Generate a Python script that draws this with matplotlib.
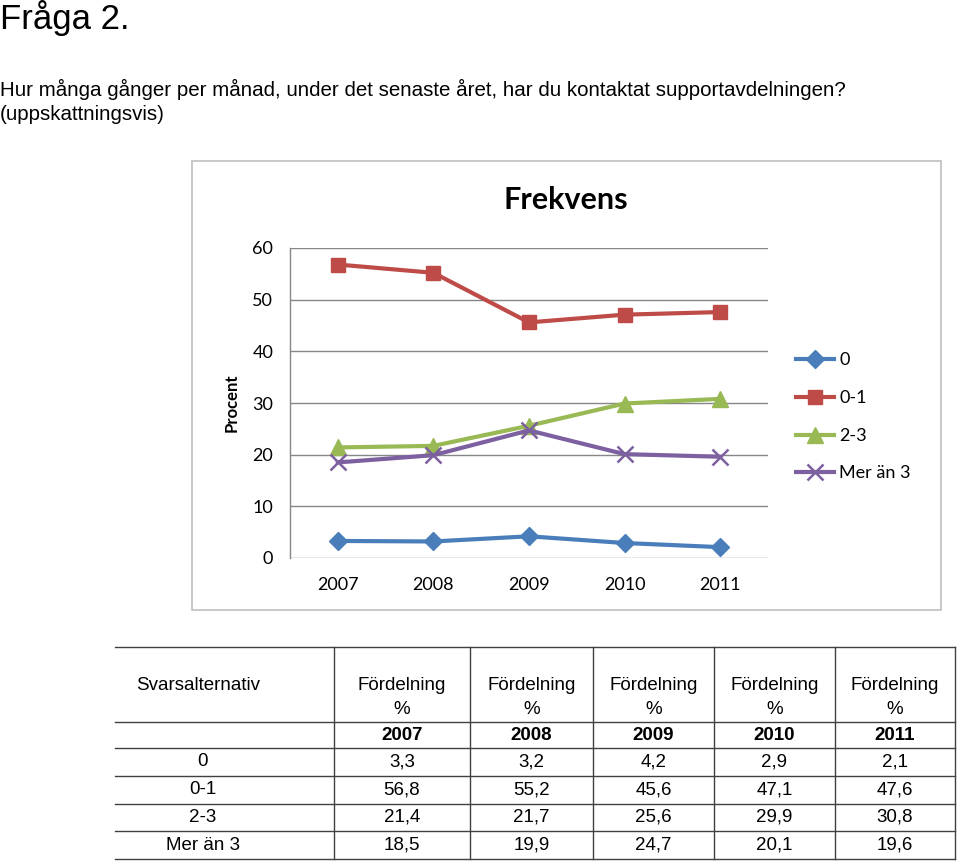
import matplotlib
matplotlib.use("Agg")
import matplotlib.pyplot as plt
from matplotlib.lines import Line2D
from matplotlib.patches import Rectangle

years = ["2007", "2008", "2009", "2010", "2011"]
series_names = ["0", "0-1", "2-3", "Mer än 3"]
v_0 = [3.3, 3.2, 4.2, 2.9, 2.1]
v_01 = [56.8, 55.2, 45.6, 47.1, 47.6]
v_23 = [21.4, 21.7, 25.6, 29.9, 30.8]
v_mer3 = [18.5, 19.9, 24.7, 20.1, 19.6]
yticks = [0, 10, 20, 30, 40, 50, 60]

colors = ["#4A7EBB", "#BE4B48", "#98B954", "#7D60A0"]
markers = ["D", "s", "^", "x"]
msizes = [9, 10, 11, 11]

W, H = 960, 864
fig = plt.figure(figsize=(9.6, 8.64), dpi=100)

def fx(x):
    return x / W

def fy(y):
    return 1 - y / H

# Header texts
body = ["Liberation Sans", "DejaVu Sans"]
fig.text(fx(0), fy(18), "Fråga 2.", fontsize=25, family=body, va="center", ha="left")
fig.text(fx(0), fy(89), "Hur många gånger per månad, under det senaste året, har du kontaktat supportavdelningen?",
         fontsize=14.8, family=body, va="center", ha="left")
fig.text(fx(0), fy(115), "(uppskattningsvis)", fontsize=14.8, family=body, va="center", ha="left")

# Chart frame
fig.add_artist(Rectangle((fx(192), fy(610)), fx(941) - fx(192), fy(161) - fy(610),
                         transform=fig.transFigure, fill=False, edgecolor="#BFBFBF", linewidth=1.2))

chart_font = ["Lato", "DejaVu Sans"]
ax = fig.add_axes([fx(290), fy(558), fx(768) - fx(290), fy(248) - fy(558)])
xs = list(range(len(years)))
all_vals = [v_0, v_01, v_23, v_mer3]
for vals, name, c, m, ms in zip(all_vals, series_names, colors, markers, msizes):
    ax.plot(xs, vals, color=c, linewidth=3, marker=m, markersize=ms,
            markeredgewidth=1.8 if m == "x" else 1, markeredgecolor=c, label=name, zorder=3)

ax.set_xlim(-0.5, len(years) - 0.5)
ax.set_ylim(0, 60)
ax.set_yticks(yticks)
ax.set_yticklabels([str(t) for t in yticks], fontsize=13, family=chart_font)
ax.set_xticks(xs)
ax.set_xticklabels(years, fontsize=13, family=chart_font)
ax.tick_params(length=0, pad=12)
ax.tick_params(axis="x", pad=14)
ax.grid(axis="y", color="#868686", linewidth=1)
ax.set_axisbelow(True)
for s in ["top", "right", "bottom"]:
    ax.spines[s].set_visible(False)
ax.spines["left"].set_color("#868686")
ax.spines["left"].set_linewidth(1)

fig.text(fx(232), fy(403), "Procent", rotation=90, fontsize=12, fontweight="bold",
         family=chart_font, ha="center", va="center")
fig.text(fx(566), fy(200), "Frekvens", fontsize=22, fontweight="bold",
         family=chart_font, ha="center", va="center")

leg = ax.legend(loc="center left", bbox_to_anchor=(fx(796), fy(417)), bbox_transform=fig.transFigure,
                frameon=False, prop={"family": chart_font, "size": 13},
                handlelength=2.1, handletextpad=0.3, labelspacing=1.2, borderaxespad=0, borderpad=0)

# Table
row_y = [647, 722, 748, 776, 804, 831, 859]
col_x = [115, 334, 470, 593, 714, 835, 955]
tab_font = ["Liberation Sans", "DejaVu Sans"]
lc = "#404040"
for y in row_y:
    fig.add_artist(Line2D([fx(col_x[0]), fx(col_x[-1])], [fy(y), fy(y)], color=lc, linewidth=1,
                          transform=fig.transFigure))
for x in col_x[1:]:
    fig.add_artist(Line2D([fx(x), fx(x)], [fy(row_y[0]), fy(row_y[-1])], color=lc, linewidth=1,
                          transform=fig.transFigure))

tfs = 13.5
fig.text(fx(136), fy(686), "Svarsalternativ", fontsize=tfs, family=tab_font, ha="left", va="center")
for i, yr in enumerate(years):
    cx = (col_x[i + 1] + col_x[i + 2]) / 2
    fig.text(fx(cx), fy(686), "Fördelning", fontsize=tfs, family=tab_font, ha="center", va="center")
    fig.text(fx(cx), fy(709), "%", fontsize=tfs, family=tab_font, ha="center", va="center")
    fig.text(fx(cx), fy(736), yr, fontsize=tfs, family=tab_font, fontweight="bold", ha="center", va="center")

name_cx = [203, 203, 203, 203]
for r, (name, vals) in enumerate(zip(series_names, all_vals)):
    cy = (row_y[r + 2] + row_y[r + 3]) / 2
    fig.text(fx(name_cx[r]), fy(cy), name, fontsize=tfs, family=tab_font,
             ha="center", va="center")
    for i, v in enumerate(vals):
        cx = (col_x[i + 1] + col_x[i + 2]) / 2
        fig.text(fx(cx), fy(cy), f"{v:.1f}".replace(".", ","), fontsize=tfs, family=tab_font,
                 ha="center", va="center")

fig.savefig("out.png", dpi=100)
